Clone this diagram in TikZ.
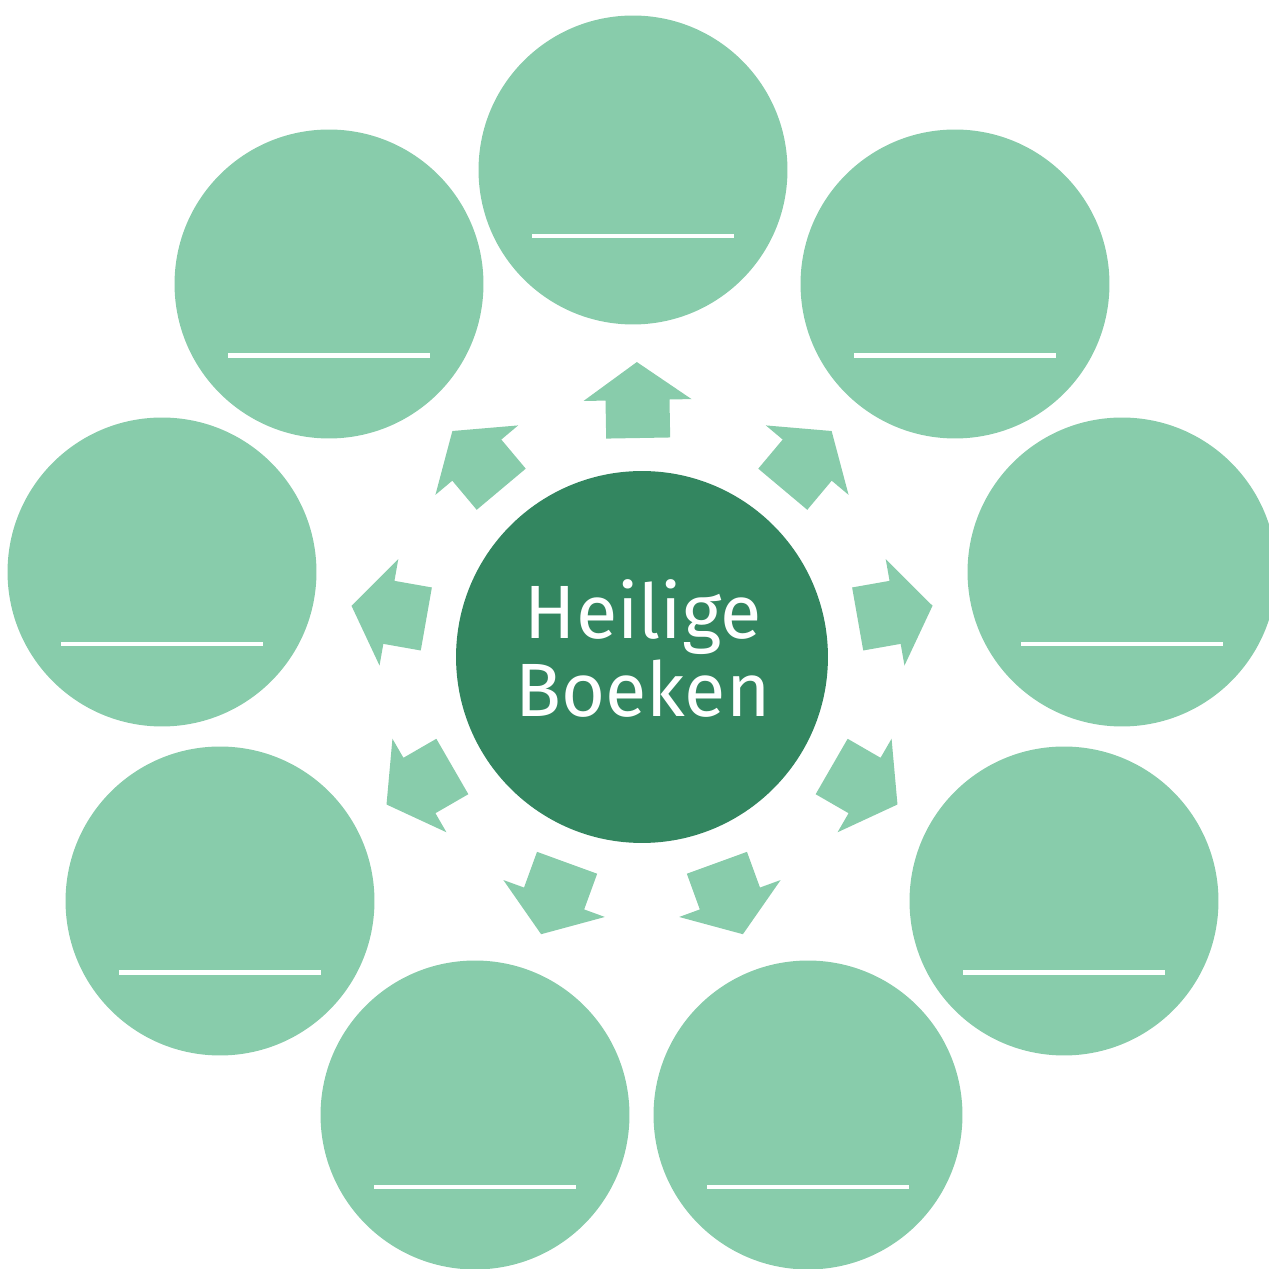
\documentclass[tikz,border=0pt]{standalone}
\usepackage{fontspec}
\setmainfont{Fira Sans}
\definecolor{lightg}{HTML}{88CCAB}
\definecolor{darkg}{HTML}{338660}
\begin{document}
\begin{tikzpicture}[x=0.02cm,y=0.02cm,
  outer/.style={circle, fill=lightg, minimum size=6.18cm, inner sep=0pt},
  hub/.style={circle, fill=darkg, minimum size=7.44cm, inner sep=0pt},
  blank/.style={draw=white, line width=0.09cm},
  blockarrow/.style={fill=lightg}]
\useasboundingbox (0,0) rectangle (1269,1269);
\clip (0,0) rectangle (1269,1269);
\node[hub] (c) at (642,612) {};
\node[font=\fontsize{43}{44.4}\selectfont, text=white, align=center, inner sep=0pt, anchor=south] (t) at (643,551) {Heilige\\Boeken};
\foreach \n/\x/\y/\d in {1/633/1099/66, 2/955/985/71.5, 3/1122/697/72, 4/1064/368/71.5, 5/808/154/72, 6/475/154/72, 7/220/368/71.5, 8/162/697/72, 9/329/985/71.5} {
  \node[outer] (o\n) at (\x,\y) {};
  \draw[blank] ([shift={(-101,-\d)}]o\n.center) -- ([shift={(101,-\d)}]o\n.center);
}
\foreach \a in {91,50,10,-30,-70,-110,-150,170,130} {
  \begin{scope}[shift={(c.center)}, rotate=\a]
    \fill[blockarrow] (219,-32) -- (257,-32) -- (257,-54) -- (295,0) -- (257,54) -- (257,32) -- (219,32) -- cycle;
  \end{scope}
}
\end{tikzpicture}
\end{document}
